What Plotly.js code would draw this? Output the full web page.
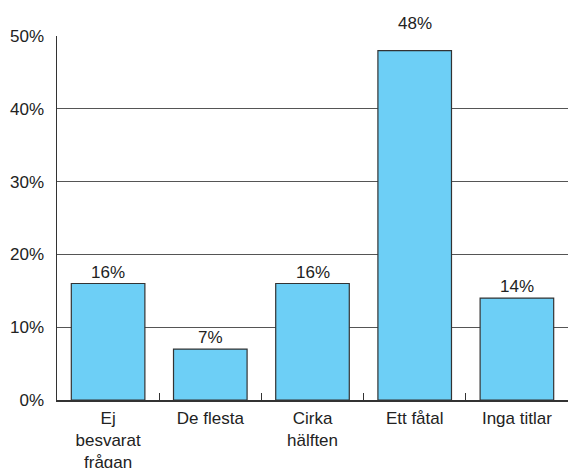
<!DOCTYPE html>
<html><head><meta charset="utf-8">
<script src="https://cdn.plot.ly/plotly-3.0.1.min.js"></script>
<style>html,body{margin:0;padding:0;background:#fff}</style>
</head><body><div id="chart" style="width:568px;height:468px"></div>
<script>
const categories = ["Ej<br>besvarat<br>frågan", "De flesta", "Cirka<br>hälften", "Ett fåtal", "Inga titlar"];
const values = [16, 7, 16, 48, 14];
const labels = ["16%", "7%", "16%", "48%", "14%"];
const yTicks = [0, 10, 20, 30, 40, 50];
const yTickText = ["0%", "10%", "20%", "30%", "40%", "50%"];

const FONT = "Liberation Sans, Arial, Helvetica, sans-serif";
const annotations = categories.map((c, i) => ({
  x: c, y: values[i], xref: "x", yref: "y",
  text: labels[i], showarrow: false, yanchor: "bottom",
  yshift: values[i] > 45 ? 16 : 0,
  font: {family: FONT, size: 17, color: "#222"}
}));

Plotly.newPlot("chart", [{
  type: "bar",
  x: categories,
  y: values,
  marker: {color: "#6dcff6", line: {color: "#333", width: 1.2}},
  hoverinfo: "none"
}], {
  width: 568, height: 468,
  margin: {l: 57, r: 0, t: 36, b: 68},
  bargap: 0.28,
  paper_bgcolor: "#fff", plot_bgcolor: "#fff",
  font: {family: FONT, size: 17, color: "#222"},
  showlegend: false,
  annotations: annotations,
  xaxis: {
    type: "category",
    showline: true, linecolor: "#333", linewidth: 1.5,
    ticks: "inside", tickson: "boundaries", ticklen: 7, tickcolor: "#333", tickwidth: 1,
    showgrid: false, ticklabelstandoff: 2,
    tickfont: {size: 17, color: "#222"}
  },
  yaxis: {
    range: [0, 50],
    tickvals: yTicks, ticktext: yTickText,
    showline: true, linecolor: "#333", linewidth: 1.5,
    showgrid: true, gridcolor: "#555", gridwidth: 1,
    zeroline: false, ticks: "", ticklabelstandoff: 8,
    tickfont: {size: 17, color: "#222"}
  }
}, {staticPlot: true});
</script></body></html>
